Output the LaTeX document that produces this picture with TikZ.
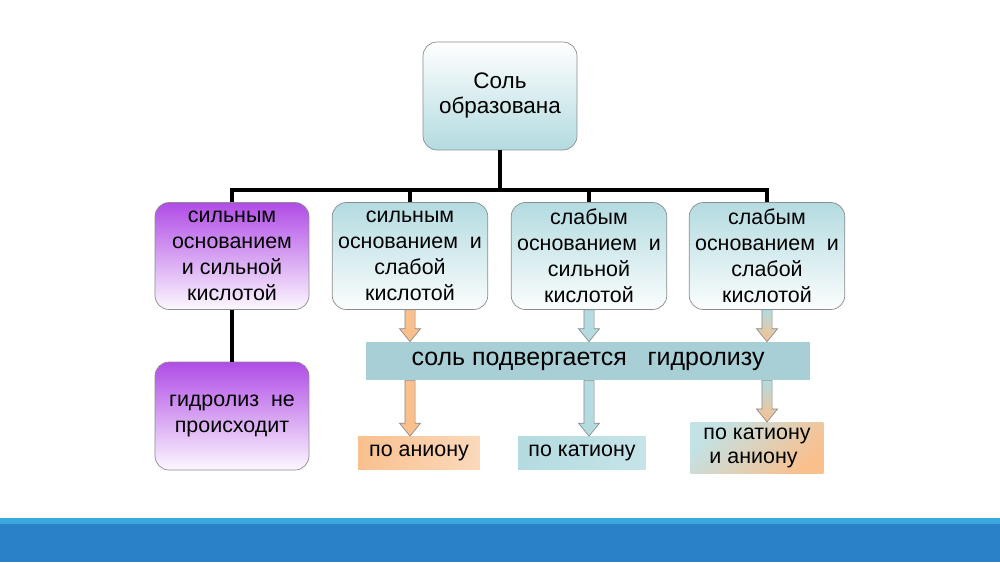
\documentclass[tikz,border=0pt]{standalone}
\usepackage{fontspec}
\setmainfont{Liberation Sans}
\usetikzlibrary{calc,positioning}
\definecolor{tealbox}{HTML}{B3DBE0}
\definecolor{purplebox}{HTML}{B04CE6}
\definecolor{bandfill}{HTML}{A8CFD6}
\definecolor{orangefill}{HTML}{F9C08E}
\definecolor{framegray}{HTML}{8C8C8C}
\definecolor{barblue}{HTML}{2A81C5}
\definecolor{barlight}{HTML}{3BA7DD}

% block arrow drawn straight down from #1 to the level of #2
\newcommand\hydarrow[3]{%
  \draw[arrowbox,#3] let \p1=(#1), \p2=(#2) in
    (\x1-2.9pt,\y1) -- (\x1+2.9pt,\y1) -- (\x1+2.9pt,\y2+7.4pt) -- (\x1+6pt,\y2+7.4pt)
    -- (\x1,\y2) -- (\x1-6pt,\y2+7.4pt) -- (\x1-2.9pt,\y2+7.4pt) -- cycle;}

\tikzset{
  saltbox/.style={draw=framegray,rounded corners=8pt,align=center,
    minimum width=3.08cm,minimum height=2.14cm,
    font=\fontsize{12.2}{14.8}\selectfont},
  tealgrad/.style={top color=tealbox,bottom color=white!95!tealbox},
  purplegrad/.style={top color=purplebox,bottom color=white!96!purplebox},
  tree/.style={line width=2.3pt,black},
  arrowbox/.style={draw=framegray,line width=0.4pt},
  resbox/.style={minimum height=0.66cm,font=\fontsize{12.2}{14}\selectfont},
}

\begin{document}
\begin{tikzpicture}[x=0.02cm,y=-0.02cm]
  \useasboundingbox (0,0) rectangle (1000,562);

  % top
  \node[saltbox,top color=white,bottom color=tealbox,minimum height=2.16cm,
    font=\fontsize{12.8}{14.2}\selectfont] (salt) at (500,96) {\\[-6pt]Соль\\образована};
  \coordinate (bus) at (500,190);

  % second row
  \node[saltbox,purplegrad] (sbsa) at (232,256) {сильным\\основанием\\и сильной\\кислотой};
  \node[saltbox,tealgrad] (sbwa) at (410,256) {сильным\\основанием\ \ и\\слабой\\кислотой};
  \node[saltbox,tealgrad] (wbsa) at (589,256) {слабым\\основанием\ \ и\\сильной\\кислотой};
  \node[saltbox,tealgrad] (wbwa) at (767,256) {слабым\\основанием\ \ и\\слабой\\кислотой};

  \draw[tree] (salt.south) -- (bus);
  \foreach \b in {sbsa,sbwa,wbsa,wbwa}
    \draw[tree] (\b.north) |- (bus);

  % no hydrolysis
  \node[saltbox,purplegrad,minimum height=2.16cm] (nohyd) at (232,416) {гидролиз\ \ не\\происходит};
  \draw[tree] (sbsa.south) -- (nohyd.north);

  % hydrolysis band
  \node[fill=bandfill,minimum width=8.9cm,minimum height=0.76cm,
    font=\fontsize{14.2}{16}\selectfont] (band) at (588,361) {соль подвергается\ \ \ гидролизу};

  % results
  \node[resbox,left color=orangefill,right color=orangefill!60!white,minimum width=2.44cm] (anion) at (419,453) {по аниону};
  \node[resbox,left color=tealbox,right color=tealbox!75!white,minimum width=2.56cm] (cation) at (582,453) {по катиону};
  \node[resbox,top color=tealbox!80!white,bottom color=orangefill,shading angle=45,
    minimum width=2.66cm,minimum height=0.94cm,align=left,
    font=\fontsize{12.2}{13.5}\selectfont] (both) at (757,448) {по катиону\\\ и аниону};

  % arrows
  \hydarrow{sbwa.south}{band.north}{fill=orangefill}
  \hydarrow{wbsa.south}{band.north}{fill=tealbox}
  \hydarrow{wbwa.south}{band.north}{top color=tealbox,bottom color=orangefill}
  \hydarrow{band.south -| sbwa}{anion.north}{fill=orangefill}
  \hydarrow{band.south -| wbsa}{cation.north}{fill=tealbox}
  \hydarrow{band.south -| wbwa}{both.north}{top color=tealbox,bottom color=orangefill}

  % bottom bar
  \fill[barblue] (0,518) rectangle (1000,562);
  \fill[barlight] (0,518) rectangle (1000,524);
\end{tikzpicture}
\end{document}
